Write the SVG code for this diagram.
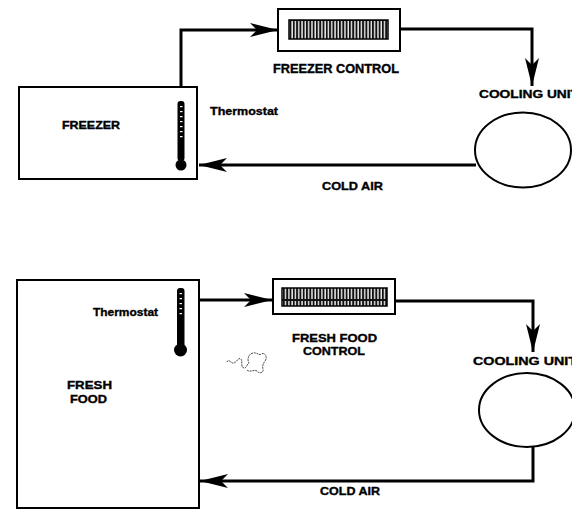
<svg xmlns="http://www.w3.org/2000/svg" width="572" height="510" viewBox="0 0 572 510">
<style>
.box{fill:#fff;stroke:#000;stroke-width:2}
.conn{fill:none;stroke:#000;stroke-width:3;stroke-linejoin:miter}
.lbl{font-family:"Liberation Sans",Arial,sans-serif;font-weight:bold;fill:#000;stroke:#000;stroke-width:0.35}
.grille{fill:url(#grille);stroke:#000;stroke-width:1.5}
.unit{fill:#fff;stroke:#000;stroke-width:2}
</style>
<defs>
<marker id="ah" markerUnits="userSpaceOnUse" markerWidth="30" markerHeight="16" refX="28" refY="8" orient="auto">
<path d="M0,1 L28,8 L0,15 L7,8 z" fill="#000"/>
</marker>
<pattern id="grille" width="3.3" height="20" patternUnits="userSpaceOnUse">
<rect width="3.3" height="20" fill="#111"/>
<rect x="1.1" y="1" width="1.3" height="18" fill="#fff"/>
</pattern>
</defs>
<rect width="572" height="510" fill="#fff"/>

<g id="connectors">
<path class="conn" d="M181,103 V30 H278" marker-end="url(#ah)"/>
<path class="conn" d="M400,29 H532 V86" marker-end="url(#ah)"/>
<path class="conn" d="M476,165 H199" marker-end="url(#ah)"/>
<path class="conn" d="M199,300 H272" marker-end="url(#ah)"/>
<path class="conn" d="M395,301 H533 V352" marker-end="url(#ah)"/>
<path class="conn" d="M533,447 V481 H200" marker-end="url(#ah)"/>
<text class="lbl" x="322" y="190" font-size="11" textLength="61" lengthAdjust="spacingAndGlyphs">COLD AIR</text>
<text class="lbl" x="320" y="495" font-size="11" textLength="60" lengthAdjust="spacingAndGlyphs">COLD AIR</text>
</g>

<g id="freezer">
<rect class="box" x="19" y="87" width="178" height="92"/>
<text class="lbl" x="62" y="129" font-size="10.5" textLength="58" lengthAdjust="spacingAndGlyphs">FREEZER</text>
<rect x="177.5" y="101" width="7" height="60" rx="3" fill="#000"/>
<g fill="#fff">
<rect x="180" y="106" width="2.5" height="1.2"/>
<rect x="180" y="111" width="2.5" height="1.2"/>
<rect x="180" y="116" width="2.5" height="1.2"/>
<rect x="180" y="121" width="2.5" height="1.2"/>
<rect x="180" y="126" width="2.5" height="1.2"/>
<rect x="180" y="131" width="2.5" height="1.2"/>
<rect x="180" y="136" width="2.5" height="1.2"/>
</g>
<circle cx="181" cy="165" r="5.5" fill="#000"/>
<text class="lbl" x="210" y="115" font-size="11.5" textLength="68" lengthAdjust="spacingAndGlyphs">Thermostat</text>
</g>

<g id="freezer-control">
<rect class="box" x="278" y="9" width="122" height="42"/>
<rect class="grille" x="289" y="20" width="99" height="19"/>
<text class="lbl" x="273" y="73" font-size="12" textLength="126" lengthAdjust="spacingAndGlyphs">FREEZER CONTROL</text>
</g>

<g id="cooling-unit-1">
<text class="lbl" x="479" y="98" font-size="11.5" textLength="100" lengthAdjust="spacingAndGlyphs">COOLING UNIT</text>
<ellipse class="unit" cx="523" cy="150" rx="48" ry="37.5"/>
</g>

<g id="fresh-food">
<rect class="box" x="17" y="280" width="182" height="228"/>
<text class="lbl" x="93" y="316" font-size="11.5" textLength="65" lengthAdjust="spacingAndGlyphs">Thermostat</text>
<text class="lbl" x="67" y="389" font-size="11.5" textLength="45" lengthAdjust="spacingAndGlyphs">FRESH</text>
<text class="lbl" x="70" y="403" font-size="11.5" textLength="37" lengthAdjust="spacingAndGlyphs">FOOD</text>
<rect x="177" y="288" width="7.5" height="60" rx="3" fill="#000"/>
<g fill="#fff">
<rect x="179.5" y="293" width="2.5" height="1.2"/>
<rect x="179.5" y="298" width="2.5" height="1.2"/>
<rect x="179.5" y="303" width="2.5" height="1.2"/>
<rect x="179.5" y="308" width="2.5" height="1.2"/>
<rect x="179.5" y="313" width="2.5" height="1.2"/>
</g>
<circle cx="180.5" cy="350" r="6.5" fill="#000"/>
</g>

<g id="fresh-food-control">
<rect class="box" x="273" y="279" width="122" height="35"/>
<rect class="grille" x="282" y="288" width="105" height="18"/>
<text class="lbl" x="292" y="342" font-size="11.5" textLength="85" lengthAdjust="spacingAndGlyphs">FRESH FOOD</text>
<text class="lbl" x="303" y="355" font-size="11.5" textLength="62" lengthAdjust="spacingAndGlyphs">CONTROL</text>
</g>

<g id="cooling-unit-2">
<text class="lbl" x="473" y="365" font-size="11.5" textLength="104" lengthAdjust="spacingAndGlyphs">COOLING UNIT</text>
<ellipse class="unit" cx="527" cy="410" rx="48" ry="37"/>
</g>

<path d="M227,362 c2,-4 4,2 7,1 c3,-1 4,-6 7,-4 c2,2 -1,8 3,9 c2,1 3,-4 5,-5 c-2,-3 -1,-9 4,-10 c4,-1 6,3 8,1 c4,-2 7,3 4,7 c-2,3 -3,5 -2,8 c1,4 -4,5 -6,2 c-3,-2 -7,2 -10,-1" fill="none" stroke="#333" stroke-width="0.9" stroke-dasharray="2 0.8"/>
</svg>
